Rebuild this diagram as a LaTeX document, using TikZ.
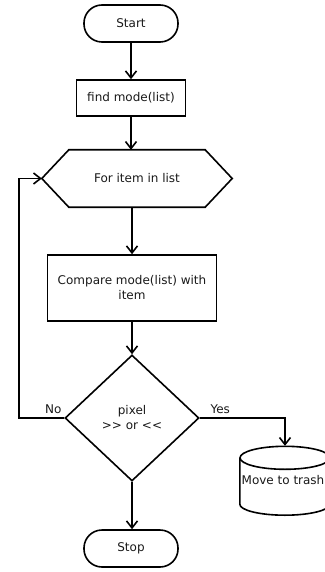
\documentclass[tikz,border=0pt]{standalone}
\usepackage{fontspec}
\setmainfont{DejaVu Sans}
\usetikzlibrary{shapes.geometric,arrows.meta,calc}
\begin{document}
\begin{tikzpicture}[x=1pt,y=-1pt,
  every node/.style={font=\fontsize{12}{15}\selectfont, text=black!90},
  line/.style={line width=1.6pt, draw=black},
  arr/.style={line, -{Straight Barb[length=7pt,width=11pt]}},
  term/.style={line, rectangle, rounded corners=18pt, minimum width=94pt, minimum height=37pt},
  proc/.style={line, rectangle, align=center},
  hexa/.style={minimum width=190pt, minimum height=57pt, inner sep=0pt},
  deci/.style={line, diamond, minimum width=134pt, minimum height=126pt, inner sep=0pt, align=center},
  lbl/.style={font=\fontsize{12}{15}\selectfont, text=black!90}
]
\useasboundingbox (0,0) rectangle (324,572);

\node[term] (start) at (131,23.5) {Start};
\node[proc, minimum width=109pt, minimum height=36pt] (find) at (131,98) {find mode(list)};
\node[hexa] (hex) at (137,178.5) {For item in list};
\draw[line] (hex.west) -- ($(hex.north west)+(27,0)$) -- ($(hex.north east)+(-27,0)$)
  -- (hex.east) -- ($(hex.south east)+(-27,0)$) -- ($(hex.south west)+(27,0)$) -- cycle;
\node[proc, minimum width=169pt, minimum height=66pt] (cmp) at (132,288) {Compare mode(list) with\\item};
\node[deci] (dia) at (132,418) {pixel\\>{}> or <{}<};
\node[term] (stop) at (131,548.5) {Stop};
\node[minimum width=90pt, minimum height=69pt, inner sep=0pt] (trash) at (285,480.5) {\raisebox{-4.5pt}{Move to trash}\hspace*{4pt}};

% cylinder
\draw[line] ($(trash.north)+(0,12)$) ellipse [x radius=45, y radius=11.5];
\draw[line] ($(trash.north west)+(0,12)$) -- ($(trash.south west)+(0,-11)$)
  arc[start angle=180, end angle=0, x radius=45, y radius=11]
  -- ($(trash.north east)+(0,12)$);

\coordinate (noc) at (19,418);

\draw[arr] (start.south) -- (start.south |- find.north);
\draw[arr] (find.south) -- (find.south |- hex.north);
\draw[arr] (cmp.north |- hex.south) -- (cmp.north);
\draw[arr] (cmp.south) -- (cmp.south |- dia.north);
\draw[arr] (dia.south) -- (dia.south |- stop.north);
\draw[arr] (dia.west) -- node[lbl, above, pos=0.24] {No} (noc) |- (hex.west);
\draw[arr] (dia.east) -| node[lbl, above, pos=0.12] {Yes} (trash.north);
\end{tikzpicture}
\end{document}
